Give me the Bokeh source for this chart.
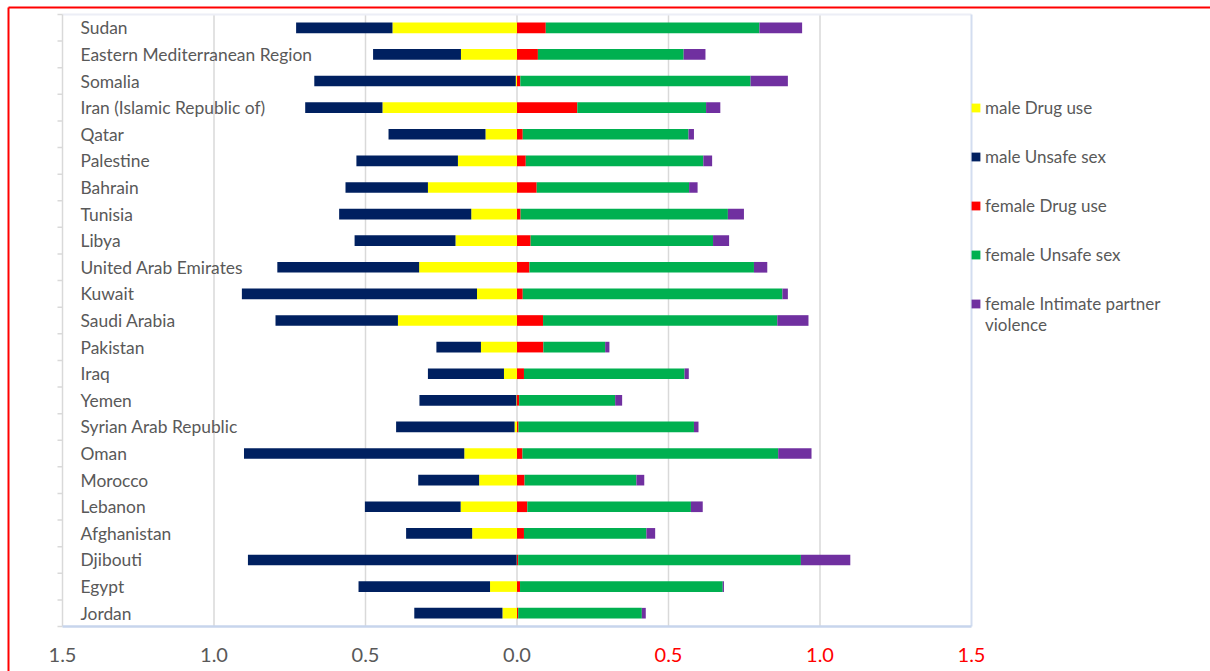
import numpy as np
from bokeh.plotting import figure
from bokeh.models import ColumnDataSource, Range1d, Legend, LegendItem
from bokeh.core.properties import value
from bokeh.embed import file_html
from bokeh.resources import INLINE

countries = ["Sudan", "Eastern Mediterranean Region", "Somalia", "Iran (Islamic Republic of)",
             "Qatar", "Palestine", "Bahrain", "Tunisia", "Libya", "United Arab Emirates",
             "Kuwait", "Saudi Arabia", "Pakistan", "Iraq", "Yemen", "Syrian Arab Republic",
             "Oman", "Morocco", "Lebanon", "Afghanistan", "Djibouti", "Egypt", "Jordan"]

male_drug_use = [0.411, 0.185, 0.004, 0.444, 0.104, 0.195, 0.294, 0.151, 0.203, 0.323, 0.132, 0.393,
                 0.119, 0.043, 0.002, 0.008, 0.174, 0.125, 0.186, 0.148, 0.001, 0.089, 0.048]
male_unsafe_sex = [0.318, 0.290, 0.665, 0.255, 0.320, 0.335, 0.272, 0.436, 0.333, 0.468, 0.776, 0.404,
                   0.147, 0.251, 0.320, 0.391, 0.727, 0.201, 0.316, 0.218, 0.887, 0.434, 0.291]
female_drug_use = [0.095, 0.069, 0.011, 0.199, 0.019, 0.029, 0.065, 0.012, 0.045, 0.041, 0.019, 0.086,
                   0.087, 0.023, 0.007, 0.005, 0.018, 0.025, 0.034, 0.023, 0.004, 0.010, 0.004]
female_unsafe_sex = [0.705, 0.481, 0.760, 0.425, 0.547, 0.586, 0.503, 0.684, 0.602, 0.741, 0.857, 0.773,
                     0.204, 0.530, 0.317, 0.579, 0.844, 0.369, 0.540, 0.404, 0.933, 0.669, 0.408]
female_ipv = [0.141, 0.072, 0.123, 0.047, 0.018, 0.029, 0.028, 0.053, 0.053, 0.044, 0.018, 0.103,
              0.014, 0.014, 0.023, 0.015, 0.110, 0.026, 0.039, 0.029, 0.163, 0.004, 0.013]

x_ticks = [-1.5, -1.0, -0.5, 0.0, 0.5, 1.0, 1.5]
x_tick_labels = ["1.5", "1.0", "0.5", "0.0", "0.5", "1.0", "1.5"]
series_labels = ["male Drug use", "male Unsafe sex", "female Drug use", "female Unsafe sex",
                 "female Intimate partner", "violence"]
colors = ["#FFFF00", "#002060", "#FF0000", "#00B050", "#7030A0"]

FONT = "Lato"
TXT = "#595959"

n = len(countries)
ypos = [n - i - 0.5 for i in range(n)]
md = np.array(male_drug_use)
mu = np.array(male_unsafe_sex)
fd = np.array(female_drug_use)
fu = np.array(female_unsafe_sex)
fi = np.array(female_ipv)

src = ColumnDataSource(dict(
    country=countries, y=ypos,
    md_l=-md, md_r=np.zeros(n),
    mu_l=-(md + mu), mu_r=-md,
    fd_l=np.zeros(n), fd_r=fd,
    fu_l=fd, fu_r=fd + fu,
    fi_l=fd + fu, fi_r=fd + fu + fi,
    lx=np.full(n, x_ticks[0]),
))

# ---- layout in pixels (canvas 1210 x 671, plot area 62..971 x 14..626) ----
W, H = 1210, 671
PLOT_L, PLOT_R, PLOT_T, PLOT_B = 62, 971, 14, 626
px_x = (PLOT_R - PLOT_L) / (x_ticks[-1] - x_ticks[0])     # pixels per x unit
px_y = (PLOT_B - PLOT_T) / n                               # pixels per row
x_start = x_ticks[0] - PLOT_L / px_x
x_end = x_ticks[-1] + (W - PLOT_R) / px_x
y_start = -(H - PLOT_B) / px_y
y_end = n + PLOT_T / px_y

p = figure(frame_width=W, frame_height=H,
           min_border_left=0, min_border_right=0, min_border_top=0, min_border_bottom=0,
           x_range=Range1d(x_start, x_end), y_range=Range1d(y_start, y_end),
           output_backend="svg", toolbar_location=None)
p.background_fill_color = "white"
p.border_fill_color = "white"
p.outline_line_color = None
p.xgrid.visible = False
p.ygrid.visible = False
p.xaxis.visible = False
p.yaxis.visible = False

# red chart border (top and left edges, as in the reference)
x_red = x_ticks[0] - (PLOT_L - 8) / px_x
y_red = n + (PLOT_T - 7) / px_y
p.segment(x0=[x_red, x_red], y0=[y_start, y_red], x1=[x_red, x_end], y1=[y_red, y_red],
          line_color="#FF0000", line_width=2)

# vertical gridlines
inner = x_ticks[1:-1]
p.segment(x0=inner, y0=[0] * len(inner), x1=inner, y1=[n] * len(inner),
          line_color="#d9d9d9", line_width=1.5)
# plot-area top and right edges
p.segment(x0=[x_ticks[0]], y0=[n], x1=[x_ticks[-1]], y1=[n], line_color="#eceef6", line_width=2)
p.segment(x0=[x_ticks[-1]], y0=[0], x1=[x_ticks[-1]], y1=[n], line_color="#d3ddf0", line_width=2)

# left category axis: line plus ticks on the category boundaries
bounds = list(range(n + 1))
tick_len = 5 / px_x
p.segment(x0=[x_ticks[0]], y0=[0], x1=[x_ticks[0]], y1=[n], line_color="#d9d9d9", line_width=1.5)
p.segment(x0=[x_ticks[0] - tick_len] * len(bounds), y0=bounds, x1=[x_ticks[0]] * len(bounds), y1=bounds,
          line_color="#d9d9d9", line_width=1.5)

h = 0.4
r_md = p.hbar(y="y", left="md_l", right="md_r", height=h, source=src, fill_color=colors[0], line_color=None)
r_mu = p.hbar(y="y", left="mu_l", right="mu_r", height=h, source=src, fill_color=colors[1], line_color=None)
r_fd = p.hbar(y="y", left="fd_l", right="fd_r", height=h, source=src, fill_color=colors[2], line_color=None)
r_fu = p.hbar(y="y", left="fu_l", right="fu_r", height=h, source=src, fill_color=colors[3], line_color=None)
r_fi = p.hbar(y="y", left="fi_l", right="fi_r", height=h, source=src, fill_color=colors[4], line_color=None)

# bottom axis line
p.segment(x0=[x_ticks[0]], y0=[0], x1=[x_ticks[-1]], y1=[0], line_color="#c7d5ec", line_width=2.5)

# category labels inside the plot area
p.text(x="lx", y="y", text="country", source=src, x_offset=18,
       text_font=value(FONT), text_font_size="17.4px", text_color=TXT,
       text_baseline="middle", text_align="left")

# x tick labels: left side grey, right side red
tick_src = ColumnDataSource(dict(
    x=x_ticks, y=[0] * len(x_ticks), text=x_tick_labels,
    color=[TXT if t <= 0 else "#FF0000" for t in x_ticks]))
p.text(x="x", y="y", text="text", source=tick_src, y_offset=28, text_color="color",
       text_font=value(FONT), text_font_size="20px", text_align="center", text_baseline="middle")

renderers = [r_md, r_mu, r_fd, r_fu, r_fi]
dummy = p.hbar(y=[], left=[], right=[], height=h, fill_alpha=0, line_alpha=0)


def style_legend(lg):
    lg.background_fill_alpha = 0
    lg.border_line_color = None
    lg.padding = 0
    lg.margin = 0
    lg.spacing = 28
    lg.glyph_width = 11
    lg.glyph_height = 11
    lg.label_standoff = 4
    lg.label_height = 20
    lg.label_text_font = FONT
    lg.label_text_font_size = "17px"
    lg.label_text_color = TXT


legend = Legend(items=[LegendItem(label=l, renderers=[r]) for l, r in zip(series_labels[:5], renderers)],
                location=(PLOT_R - 1, 357))
style_legend(legend)
p.add_layout(legend, "center")

legend2 = Legend(items=[LegendItem(label=series_labels[5], renderers=[dummy])], location=(PLOT_R - 1, 336))
style_legend(legend2)
p.add_layout(legend2, "center")

open("out.html", "w").write(file_html(p, INLINE))
